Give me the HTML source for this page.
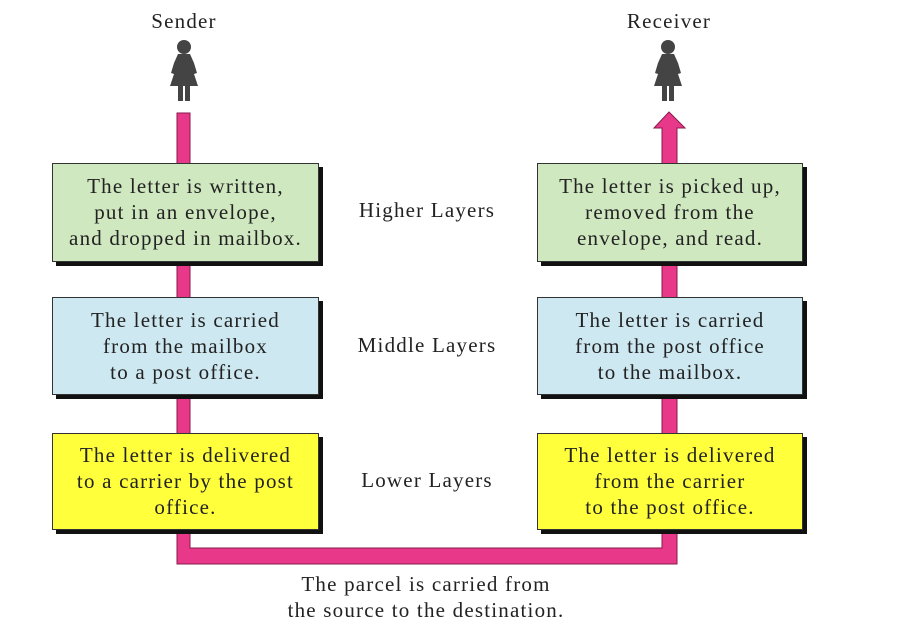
<!DOCTYPE html>
<html><head><style>
body{margin:0;width:906px;height:635px;background:#fff;position:relative;overflow:hidden;font-family:"Liberation Serif",serif;color:#222;letter-spacing:1.2px}
.box{position:absolute;border:1px solid #333;box-shadow:4px 4px 0 #111;text-align:center;font-size:21px;line-height:26px;box-sizing:border-box;padding-top:9px;white-space:nowrap}
.g{background:#cfe8c0}.b{background:#cde8f0}.y{background:#ffff3c}
.lbl{position:absolute;font-size:21px;text-align:center;width:240px;white-space:nowrap}
</style></head><body>
<div class="lbl" style="left:64px;top:9px">Sender</div>
<div class="lbl" style="left:549px;top:9px">Receiver</div>
<svg width="906" height="635" style="position:absolute;left:0;top:0">
<g fill="#444">
<g transform="translate(184,0)"><circle cx="0" cy="47" r="7"/><path d="M-6,54 L6,54 L10,63 L13,73 L10,74 L8,68 L14,86 L-14,86 L-8,68 L-10,74 L-13,73 L-10,63 Z"/><rect x="-6" y="86" width="5" height="15"/><rect x="1" y="86" width="5" height="15"/></g>
<g transform="translate(668,0)"><circle cx="0" cy="47" r="7"/><path d="M-6,54 L6,54 L10,63 L13,73 L10,74 L8,68 L14,86 L-14,86 L-8,68 L-10,74 L-13,73 L-10,63 Z"/><rect x="-6" y="86" width="5" height="15"/><rect x="1" y="86" width="5" height="15"/></g>
</g>
<rect x="177" y="113" width="13" height="60" fill="#e8388a" stroke="#8a1a4a"/>
<path d="M662,165 L662,128 L654,128 L669,112 L685,128 L677,128 L677,165 Z" fill="#e8388a" stroke="#8a1a4a"/>
<path d="M177,260 L177,564 L677,564 L677,260 L662,260 L662,548 L190,548 L190,260 Z" fill="#e8388a" stroke="#8a1a4a"/>
</svg>
<div class="box g" style="left:52px;top:163px;width:267px;height:99px">The letter is written,<br>put in an envelope,<br>and dropped in mailbox.</div>
<div class="box b" style="left:52px;top:297px;width:267px;height:98px">The letter is carried<br>from the mailbox<br>to a post office.</div>
<div class="box y" style="left:52px;top:433px;width:267px;height:97px;padding-top:8px">The letter is delivered<br>to a carrier by the post<br>office.</div>
<div class="box g" style="left:537px;top:163px;width:266px;height:99px">The letter is picked up,<br>removed from the<br>envelope, and read.</div>
<div class="box b" style="left:537px;top:297px;width:266px;height:98px">The letter is carried<br>from the post office<br>to the mailbox.</div>
<div class="box y" style="left:537px;top:433px;width:266px;height:97px;padding-top:8px">The letter is delivered<br>from the carrier<br>to the post office.</div>
<div class="lbl" style="left:307px;top:198px">Higher Layers</div>
<div class="lbl" style="left:307px;top:333px">Middle Layers</div>
<div class="lbl" style="left:307px;top:468px">Lower Layers</div>
<div class="lbl" style="left:226px;top:571px;width:400px;line-height:26px">The parcel is carried from<br>the source to the destination.</div>
</body></html>
